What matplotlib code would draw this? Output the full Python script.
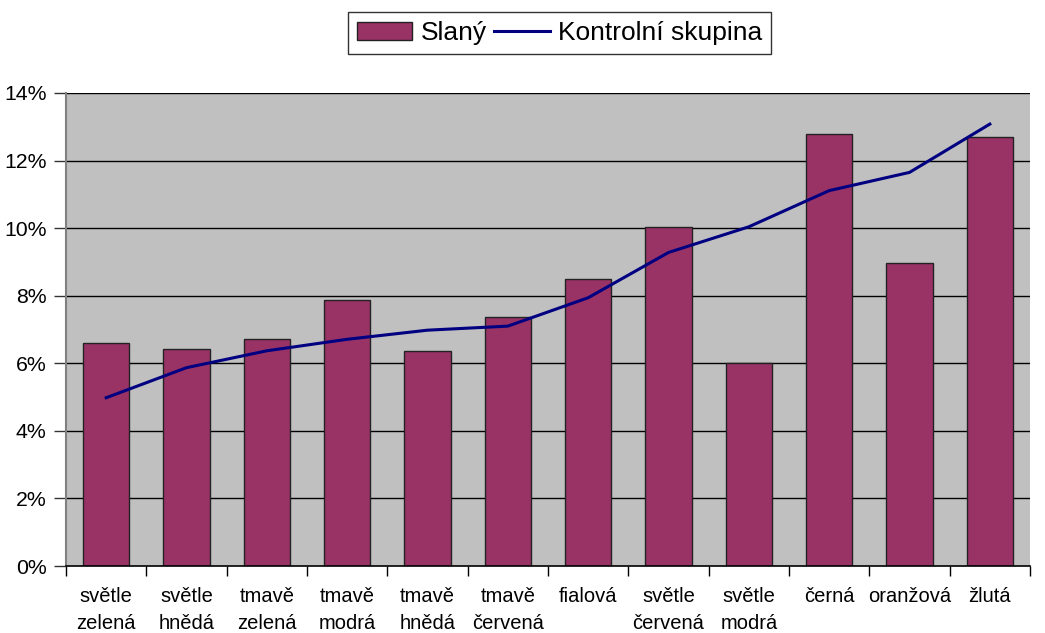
import matplotlib
matplotlib.use("Agg")
import matplotlib.pyplot as plt
from matplotlib.ticker import FuncFormatter, FixedLocator
import numpy as np

plt.rcParams['font.family'] = ['Liberation Sans', 'DejaVu Sans']

categories = ["světle\nzelená", "světle\nhnědá", "tmavě\nzelená", "tmavě\nmodrá", "tmavě\nhnědá",
              "tmavě\nčervená", "fialová", "světle\nčervená", "světle\nmodrá", "černá",
              "oranžová", "žlutá"]
slany = [6.59, 6.42, 6.73, 7.88, 6.37, 7.37, 8.49, 10.04, 6.00, 12.80, 8.98, 12.71]
kontrolni = [4.98, 5.87, 6.37, 6.71, 6.98, 7.10, 7.94, 9.28, 10.04, 11.11, 11.65, 13.08]
yticks = [0, 2, 4, 6, 8, 10, 12, 14]

fig = plt.figure(figsize=(10.45, 6.33), dpi=100)
ax = fig.add_axes([66/1045, 1-566/633, (1030-66)/1045, (566-93)/633])
ax.set_facecolor('#C0C0C0')

x = np.arange(len(categories))
bars = ax.bar(x, slany, width=0.58, color='#993366', edgecolor='#222222', linewidth=1.0,
              label='Slaný', zorder=3)
line, = ax.plot(x, kontrolni, color='#000080', linewidth=2.2, label='Kontrolní skupina', zorder=4)

ax.set_xlim(-0.5, len(categories) - 0.5)
ax.set_ylim(0, 14)
ax.set_yticks(yticks)
ax.yaxis.set_major_formatter(FuncFormatter(lambda v, p: f"{v:.0f}%"))
for yv in yticks[1:]:
    ax.axhline(yv, color='black', linewidth=1.0, zorder=1)

ax.xaxis.set_major_locator(FixedLocator(np.arange(-0.5, len(categories), 1.0)))
ax.xaxis.set_minor_locator(FixedLocator(x))
ax.set_xticklabels([])
ax.set_xticklabels(categories, minor=True, linespacing=1.52)
ax.tick_params(axis='x', which='major', length=7, width=1, color='black', direction='out')
ax.tick_params(axis='x', which='minor', length=0, pad=15, labelsize=14.5)
ax.tick_params(axis='y', length=9, width=1, color='#333333', labelsize=15.3, pad=5)

for s in ['top', 'right']:
    ax.spines[s].set_visible(False)
ax.spines['left'].set_color('#808080')
ax.spines['left'].set_linewidth(1.5)
ax.spines['bottom'].set_color('black')
ax.spines['bottom'].set_linewidth(1.2)
ax.spines['bottom'].set_zorder(5)

leg = fig.legend([bars, line], ['Slaný', 'Kontrolní skupina'], loc='center',
                 bbox_to_anchor=(559.5/1045, 1-33/633), ncol=2, fontsize=19,
                 frameon=True, fancybox=False, edgecolor='black', handlelength=2.1,
                 handleheight=0.7, handletextpad=0.3, columnspacing=0.3, borderpad=0.35,
                 borderaxespad=0)
leg.get_frame().set_linewidth(1.0)

fig.savefig('out.png', dpi=100)
